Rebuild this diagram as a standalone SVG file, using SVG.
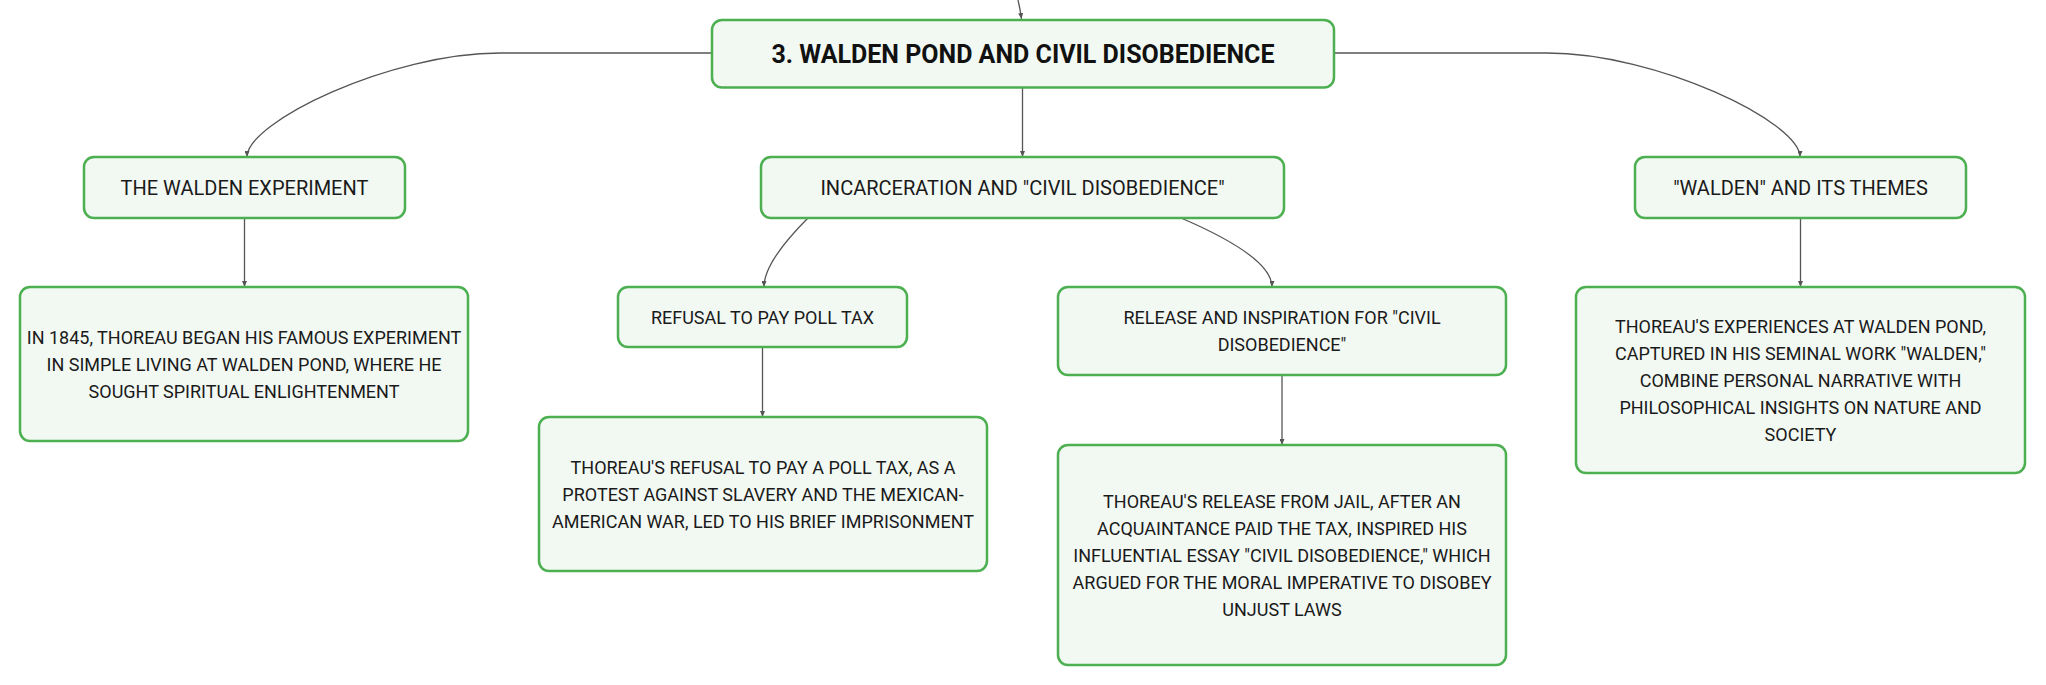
<svg xmlns="http://www.w3.org/2000/svg" width="2046" height="685" viewBox="0 0 2046 685">
<defs>
<style>
.box{fill:#f2f9f3;stroke:#4caf50;stroke-width:2.5}
.edge{fill:none;stroke:#555;stroke-width:1.3}
.t0{font-family:Roboto,"Liberation Sans",sans-serif;font-weight:700;font-size:25px;fill:#111;text-anchor:middle}
.t1{font-family:Roboto,"Liberation Sans",sans-serif;font-size:20px;fill:#1a1a1a;text-anchor:middle}
.t2{font-family:Roboto,"Liberation Sans",sans-serif;font-size:18px;fill:#1a1a1a;text-anchor:middle}
</style>
<marker id="arr" viewBox="0 0 6 5" refX="6" refY="2.5" markerWidth="6" markerHeight="5" markerUnits="userSpaceOnUse" orient="auto">
<path d="M0,0 L6,2.5 L0,5 z" fill="#555"/>
</marker>
</defs>
<rect width="2046" height="685" fill="#fff"/>
<g id="connectors">
<path class="edge" marker-end="url(#arr)" d="M1018,0 Q1020,8 1021.5,19"/>
<path class="edge" marker-end="url(#arr)" d="M712,53 L500,53 C390,53 247,122 247,157"/>
<path class="edge" marker-end="url(#arr)" d="M1022.5,87.5 L1022.5,157"/>
<path class="edge" marker-end="url(#arr)" d="M1334,53 L1547,53 C1657,53 1800,122 1800,157"/>
<path class="edge" marker-end="url(#arr)" d="M244.5,218 L244.5,287"/>
<path class="edge" marker-end="url(#arr)" d="M808,218 Q764,262 764,287"/>
<path class="edge" marker-end="url(#arr)" d="M1181,218 Q1272,257 1272,287"/>
<path class="edge" marker-end="url(#arr)" d="M762.5,347 L762.5,417"/>
<path class="edge" marker-end="url(#arr)" d="M1282,375 L1282,445"/>
<path class="edge" marker-end="url(#arr)" d="M1800.5,218 L1800.5,287"/>
</g>
<g id="root">
<rect class="box" x="712" y="20" width="622" height="67.5" rx="10"/>
<text class="t0" x="1023" y="62.5">3. WALDEN POND AND CIVIL DISOBEDIENCE</text>
</g>
<g id="walden-experiment">
<rect class="box" x="84" y="157" width="321" height="61" rx="10"/>
<text class="t1" x="244.5" y="194.5">THE WALDEN EXPERIMENT</text>
</g>
<g id="incarceration">
<rect class="box" x="761" y="157" width="523" height="61" rx="10"/>
<text class="t1" x="1022.5" y="194.5">INCARCERATION AND "CIVIL DISOBEDIENCE"</text>
</g>
<g id="walden-themes">
<rect class="box" x="1635" y="157" width="331" height="61" rx="10"/>
<text class="t1" x="1800.5" y="194.5">"WALDEN" AND ITS THEMES</text>
</g>
<g id="experiment-detail">
<rect class="box" x="20" y="287" width="448" height="154" rx="10"/>
<text class="t2" x="244" y="343.5">IN 1845, THOREAU BEGAN HIS FAMOUS EXPERIMENT</text>
<text class="t2" x="244" y="370.5">IN SIMPLE LIVING AT WALDEN POND, WHERE HE</text>
<text class="t2" x="244" y="397.5">SOUGHT SPIRITUAL ENLIGHTENMENT</text>
</g>
<g id="refusal">
<rect class="box" x="618" y="287" width="289" height="60" rx="10"/>
<text class="t2" x="762.5" y="323.5">REFUSAL TO PAY POLL TAX</text>
</g>
<g id="release">
<rect class="box" x="1058" y="287" width="448" height="88" rx="10"/>
<text class="t2" x="1282" y="324">RELEASE AND INSPIRATION FOR "CIVIL</text>
<text class="t2" x="1282" y="351">DISOBEDIENCE"</text>
</g>
<g id="refusal-detail">
<rect class="box" x="539" y="417" width="448" height="154" rx="10"/>
<text class="t2" x="763" y="473.5">THOREAU'S REFUSAL TO PAY A POLL TAX, AS A</text>
<text class="t2" x="763" y="500.5">PROTEST AGAINST SLAVERY AND THE MEXICAN-</text>
<text class="t2" x="763" y="527.5">AMERICAN WAR, LED TO HIS BRIEF IMPRISONMENT</text>
</g>
<g id="release-detail">
<rect class="box" x="1058" y="445" width="448" height="220" rx="10"/>
<text class="t2" x="1282" y="507.5">THOREAU'S RELEASE FROM JAIL, AFTER AN</text>
<text class="t2" x="1282" y="534.5">ACQUAINTANCE PAID THE TAX, INSPIRED HIS</text>
<text class="t2" x="1282" y="561.5">INFLUENTIAL ESSAY "CIVIL DISOBEDIENCE," WHICH</text>
<text class="t2" x="1282" y="588.5">ARGUED FOR THE MORAL IMPERATIVE TO DISOBEY</text>
<text class="t2" x="1282" y="615.5">UNJUST LAWS</text>
</g>
<g id="themes-detail">
<rect class="box" x="1576" y="287" width="449" height="186" rx="10"/>
<text class="t2" x="1800.5" y="332.5">THOREAU'S EXPERIENCES AT WALDEN POND,</text>
<text class="t2" x="1800.5" y="359.5">CAPTURED IN HIS SEMINAL WORK "WALDEN,"</text>
<text class="t2" x="1800.5" y="386.5">COMBINE PERSONAL NARRATIVE WITH</text>
<text class="t2" x="1800.5" y="413.5">PHILOSOPHICAL INSIGHTS ON NATURE AND</text>
<text class="t2" x="1800.5" y="440.5">SOCIETY</text>
</g>
</svg>
